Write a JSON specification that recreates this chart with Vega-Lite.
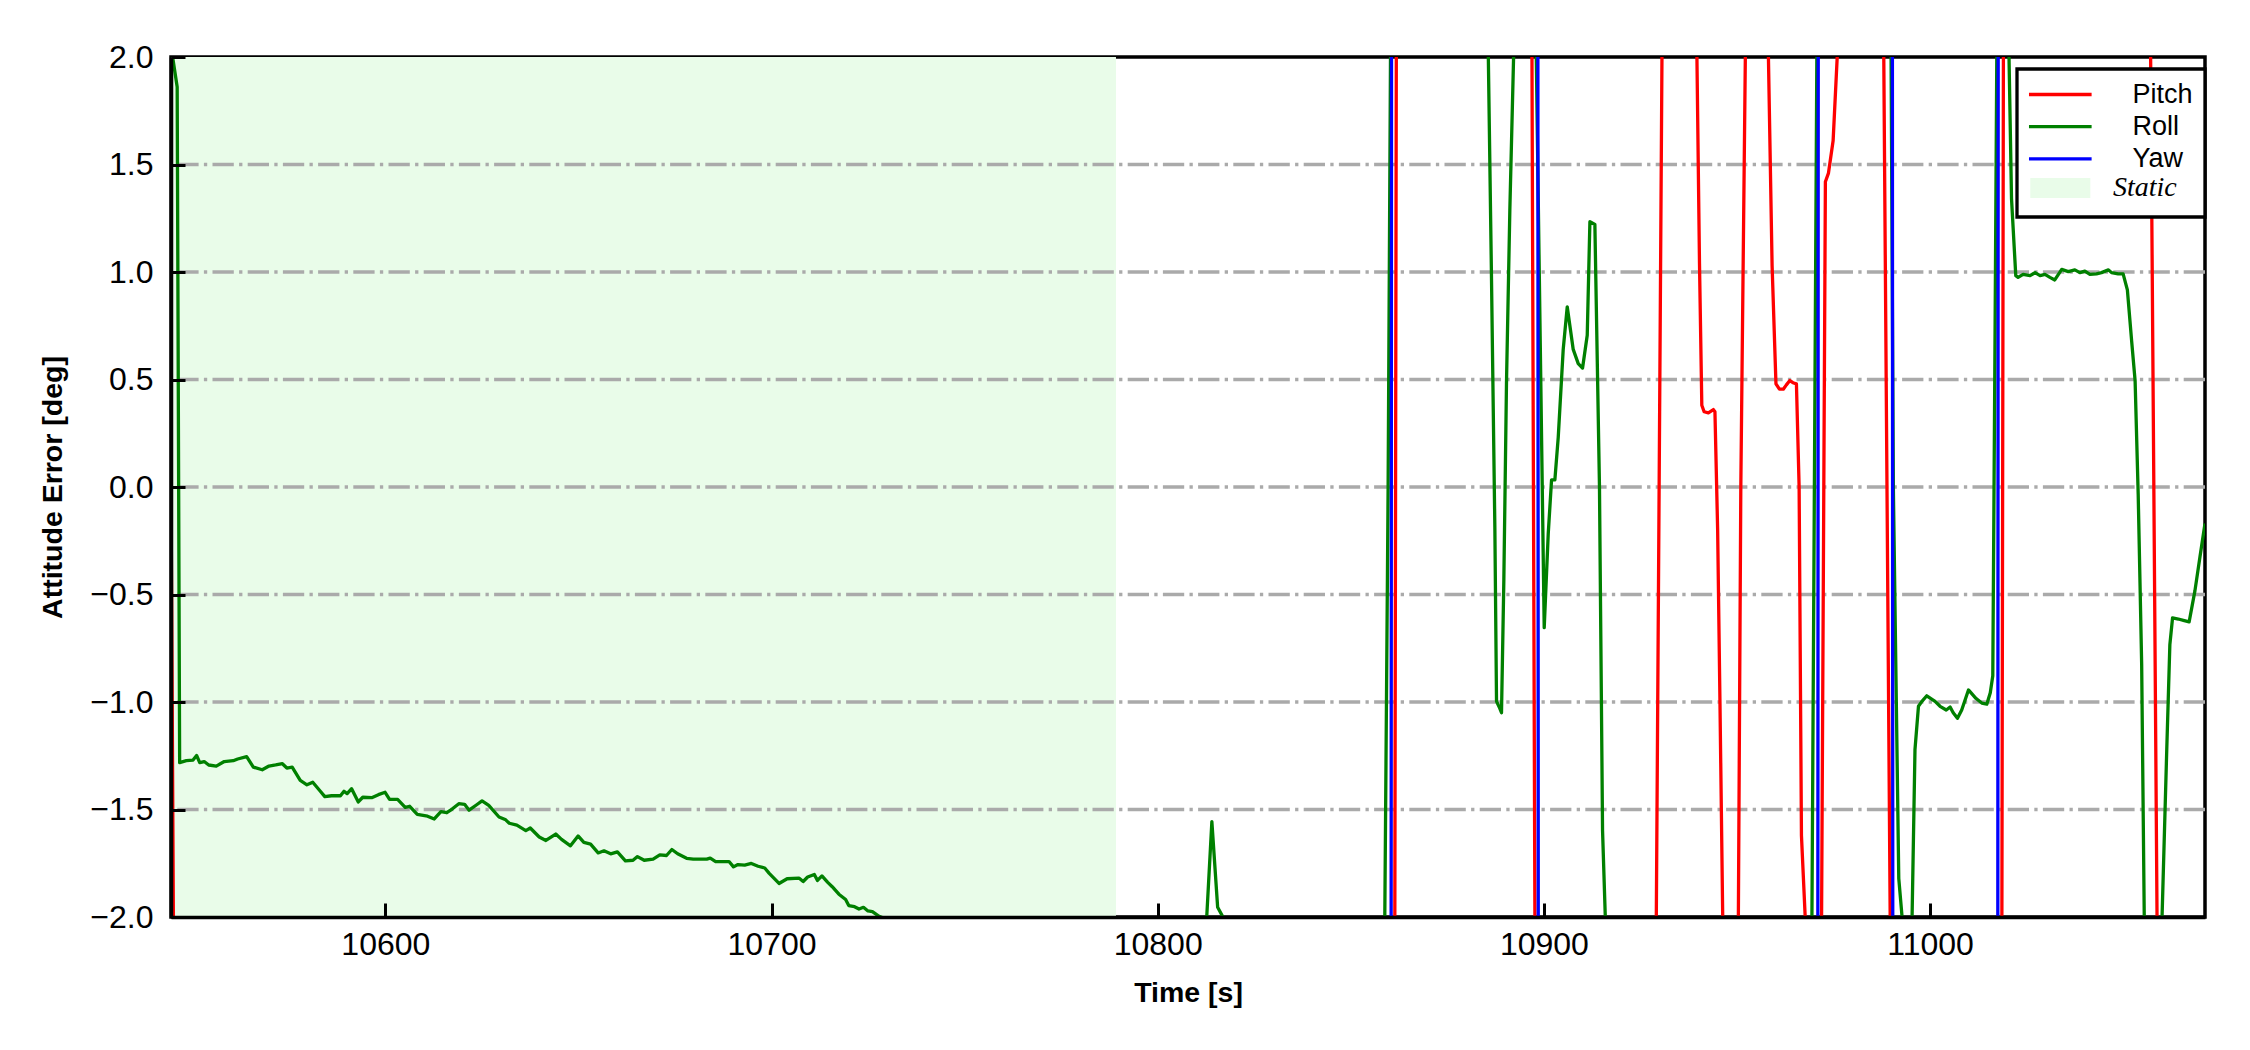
{
  "$schema": "https://vega.github.io/schema/vega-lite/v6.json",
  "width": 2034,
  "height": 860,
  "autosize": {"type": "none"},
  "padding": {"left": 171, "top": 57, "right": 45, "bottom": 133},
  "background": "white",
  "config": {
    "view": {"stroke": "black", "strokeWidth": 3.5},
    "font": "Liberation Sans",
    "legend": {
      "strokeWidth": 3.3,
      "labelAlign": "left",
      "labelColor": "black"
    }
  },
  "datasets": {
    "static": [{"region": "Static", "start": 10544.5, "end": 10789.2}],
    "grid": [{"level": -1.5}, {"level": -1}, {"level": -0.5}, {"level": 0}, {"level": 0.5}, {"level": 1}, {"level": 1.5}],
    "attitude": [
      {"series": "Pitch", "t": 10544.5, "v": 0.0},
      {"series": "Pitch", "t": 10545.15, "v": -2.1},
      {"series": "Pitch", "t": 10861.4, "v": -2.1},
      {"series": "Pitch", "t": 10861.8, "v": 2.1},
      {"series": "Pitch", "t": 10896.9, "v": 2.1},
      {"series": "Pitch", "t": 10897.7, "v": -2.1},
      {"series": "Pitch", "t": 10929.1, "v": -2.05},
      {"series": "Pitch", "t": 10930.6, "v": 2.05},
      {"series": "Pitch", "t": 10939.6, "v": 2.05},
      {"series": "Pitch", "t": 10940.3, "v": 1.04},
      {"series": "Pitch", "t": 10940.9, "v": 0.38},
      {"series": "Pitch", "t": 10941.5, "v": 0.35},
      {"series": "Pitch", "t": 10942.6, "v": 0.345},
      {"series": "Pitch", "t": 10943.9, "v": 0.36},
      {"series": "Pitch", "t": 10944.3, "v": 0.35},
      {"series": "Pitch", "t": 10945.0, "v": -0.2},
      {"series": "Pitch", "t": 10945.6, "v": -1.0},
      {"series": "Pitch", "t": 10946.35, "v": -2.05},
      {"series": "Pitch", "t": 10950.35, "v": -2.05},
      {"series": "Pitch", "t": 10951.0, "v": 0.0},
      {"series": "Pitch", "t": 10952.2, "v": 2.05},
      {"series": "Pitch", "t": 10958.1, "v": 2.05},
      {"series": "Pitch", "t": 10959.1, "v": 1.03},
      {"series": "Pitch", "t": 10960.1, "v": 0.48},
      {"series": "Pitch", "t": 10961.0, "v": 0.455},
      {"series": "Pitch", "t": 10962.0, "v": 0.455},
      {"series": "Pitch", "t": 10962.8, "v": 0.475},
      {"series": "Pitch", "t": 10963.7, "v": 0.495},
      {"series": "Pitch", "t": 10964.5, "v": 0.485},
      {"series": "Pitch", "t": 10965.4, "v": 0.48},
      {"series": "Pitch", "t": 10966.1, "v": 0.0},
      {"series": "Pitch", "t": 10966.7, "v": -1.62},
      {"series": "Pitch", "t": 10967.8, "v": -2.05},
      {"series": "Pitch", "t": 10971.9, "v": -2.05},
      {"series": "Pitch", "t": 10972.9, "v": 1.42},
      {"series": "Pitch", "t": 10973.7, "v": 1.46},
      {"series": "Pitch", "t": 10974.9, "v": 1.61},
      {"series": "Pitch", "t": 10976.1, "v": 2.05},
      {"series": "Pitch", "t": 10988.0, "v": 2.05},
      {"series": "Pitch", "t": 10989.7, "v": -2.05},
      {"series": "Pitch", "t": 11018.6, "v": -2.05},
      {"series": "Pitch", "t": 11019.0, "v": 2.05},
      {"series": "Pitch", "t": 11057.1, "v": 2.05},
      {"series": "Pitch", "t": 11058.8, "v": -2.05},
      {"series": "Pitch", "t": 11071.2, "v": -2.05},

      {"series": "Roll", "t": 10544.5, "v": 2.05},
      {"series": "Roll", "t": 10546.1, "v": 1.86},
      {"series": "Roll", "t": 10546.74, "v": -1.282},
      {"series": "Roll", "t": 10548.47, "v": -1.273},
      {"series": "Roll", "t": 10550.21, "v": -1.27},
      {"series": "Roll", "t": 10551.13, "v": -1.249},
      {"series": "Roll", "t": 10551.94, "v": -1.282},
      {"series": "Roll", "t": 10553.1, "v": -1.277},
      {"series": "Roll", "t": 10554.26, "v": -1.293},
      {"series": "Roll", "t": 10556.22, "v": -1.298},
      {"series": "Roll", "t": 10558.3, "v": -1.277},
      {"series": "Roll", "t": 10560.62, "v": -1.273},
      {"series": "Roll", "t": 10561.77, "v": -1.265},
      {"series": "Roll", "t": 10564.09, "v": -1.254},
      {"series": "Roll", "t": 10565.82, "v": -1.303},
      {"series": "Roll", "t": 10568.13, "v": -1.315},
      {"series": "Roll", "t": 10569.87, "v": -1.298},
      {"series": "Roll", "t": 10571.61, "v": -1.293},
      {"series": "Roll", "t": 10573.34, "v": -1.287},
      {"series": "Roll", "t": 10574.5, "v": -1.307},
      {"series": "Roll", "t": 10575.88, "v": -1.303},
      {"series": "Roll", "t": 10577.97, "v": -1.365},
      {"series": "Roll", "t": 10579.7, "v": -1.385},
      {"series": "Roll", "t": 10581.21, "v": -1.373},
      {"series": "Roll", "t": 10583.17, "v": -1.415},
      {"series": "Roll", "t": 10584.33, "v": -1.44},
      {"series": "Roll", "t": 10586.06, "v": -1.436},
      {"series": "Roll", "t": 10588.38, "v": -1.436},
      {"series": "Roll", "t": 10589.3, "v": -1.415},
      {"series": "Roll", "t": 10590.11, "v": -1.426},
      {"series": "Roll", "t": 10591.27, "v": -1.403},
      {"series": "Roll", "t": 10593.0, "v": -1.465},
      {"series": "Roll", "t": 10594.16, "v": -1.443},
      {"series": "Roll", "t": 10596.47, "v": -1.445},
      {"series": "Roll", "t": 10598.21, "v": -1.431},
      {"series": "Roll", "t": 10599.94, "v": -1.42},
      {"series": "Roll", "t": 10601.1, "v": -1.453},
      {"series": "Roll", "t": 10603.18, "v": -1.453},
      {"series": "Roll", "t": 10605.15, "v": -1.49},
      {"series": "Roll", "t": 10606.31, "v": -1.485},
      {"series": "Roll", "t": 10608.27, "v": -1.523},
      {"series": "Roll", "t": 10610.93, "v": -1.531},
      {"series": "Roll", "t": 10612.67, "v": -1.544},
      {"series": "Roll", "t": 10614.4, "v": -1.51},
      {"series": "Roll", "t": 10615.91, "v": -1.515},
      {"series": "Roll", "t": 10617.3, "v": -1.498},
      {"series": "Roll", "t": 10619.03, "v": -1.473},
      {"series": "Roll", "t": 10620.53, "v": -1.476},
      {"series": "Roll", "t": 10621.69, "v": -1.503},
      {"series": "Roll", "t": 10623.66, "v": -1.478},
      {"series": "Roll", "t": 10625.04, "v": -1.46},
      {"series": "Roll", "t": 10626.78, "v": -1.481},
      {"series": "Roll", "t": 10629.44, "v": -1.535},
      {"series": "Roll", "t": 10631.17, "v": -1.548},
      {"series": "Roll", "t": 10632.1, "v": -1.564},
      {"series": "Roll", "t": 10634.06, "v": -1.573},
      {"series": "Roll", "t": 10636.38, "v": -1.598},
      {"series": "Roll", "t": 10637.53, "v": -1.586},
      {"series": "Roll", "t": 10639.85, "v": -1.628},
      {"series": "Roll", "t": 10641.58, "v": -1.644},
      {"series": "Roll", "t": 10644.13, "v": -1.614},
      {"series": "Roll", "t": 10645.63, "v": -1.639},
      {"series": "Roll", "t": 10647.94, "v": -1.669},
      {"series": "Roll", "t": 10649.91, "v": -1.623},
      {"series": "Roll", "t": 10651.41, "v": -1.653},
      {"series": "Roll", "t": 10653.15, "v": -1.661},
      {"series": "Roll", "t": 10655.11, "v": -1.702},
      {"series": "Roll", "t": 10656.62, "v": -1.692},
      {"series": "Roll", "t": 10658.35, "v": -1.706},
      {"series": "Roll", "t": 10660.09, "v": -1.697},
      {"series": "Roll", "t": 10662.17, "v": -1.739},
      {"series": "Roll", "t": 10664.14, "v": -1.736},
      {"series": "Roll", "t": 10665.29, "v": -1.719},
      {"series": "Roll", "t": 10667.03, "v": -1.736},
      {"series": "Roll", "t": 10669.34, "v": -1.731},
      {"series": "Roll", "t": 10671.08, "v": -1.711},
      {"series": "Roll", "t": 10672.81, "v": -1.714},
      {"series": "Roll", "t": 10674.2, "v": -1.686},
      {"series": "Roll", "t": 10675.7, "v": -1.706},
      {"series": "Roll", "t": 10678.01, "v": -1.727},
      {"series": "Roll", "t": 10679.75, "v": -1.731},
      {"series": "Roll", "t": 10683.22, "v": -1.731},
      {"series": "Roll", "t": 10684.14, "v": -1.726},
      {"series": "Roll", "t": 10685.53, "v": -1.742},
      {"series": "Roll", "t": 10689.0, "v": -1.742},
      {"series": "Roll", "t": 10690.16, "v": -1.767},
      {"series": "Roll", "t": 10691.31, "v": -1.756},
      {"series": "Roll", "t": 10693.05, "v": -1.759},
      {"series": "Roll", "t": 10694.78, "v": -1.751},
      {"series": "Roll", "t": 10696.52, "v": -1.764},
      {"series": "Roll", "t": 10698.25, "v": -1.772},
      {"series": "Roll", "t": 10699.41, "v": -1.797},
      {"series": "Roll", "t": 10701.95, "v": -1.844},
      {"series": "Roll", "t": 10704.04, "v": -1.822},
      {"series": "Roll", "t": 10707.1, "v": -1.819},
      {"series": "Roll", "t": 10708.2, "v": -1.835},
      {"series": "Roll", "t": 10709.36, "v": -1.814},
      {"series": "Roll", "t": 10711.09, "v": -1.802},
      {"series": "Roll", "t": 10711.9, "v": -1.83},
      {"series": "Roll", "t": 10713.06, "v": -1.809},
      {"series": "Roll", "t": 10714.56, "v": -1.839},
      {"series": "Roll", "t": 10715.72, "v": -1.859},
      {"series": "Roll", "t": 10717.45, "v": -1.894},
      {"series": "Roll", "t": 10719.19, "v": -1.919},
      {"series": "Roll", "t": 10720.0, "v": -1.947},
      {"series": "Roll", "t": 10721.5, "v": -1.952},
      {"series": "Roll", "t": 10722.66, "v": -1.963},
      {"series": "Roll", "t": 10723.81, "v": -1.955},
      {"series": "Roll", "t": 10724.97, "v": -1.972},
      {"series": "Roll", "t": 10726.13, "v": -1.975},
      {"series": "Roll", "t": 10727.86, "v": -1.997},
      {"series": "Roll", "t": 10729.02, "v": -2.005},
      {"series": "Roll", "t": 10729.6, "v": -2.1},
      {"series": "Roll", "t": 10812.4, "v": -2.1},
      {"series": "Roll", "t": 10814.03, "v": -1.556},
      {"series": "Roll", "t": 10815.53, "v": -1.955},
      {"series": "Roll", "t": 10816.9, "v": -2.0},
      {"series": "Roll", "t": 10817.3, "v": -2.1},
      {"series": "Roll", "t": 10858.6, "v": -2.1},
      {"series": "Roll", "t": 10858.81, "v": -2.0},
      {"series": "Roll", "t": 10859.67, "v": 0.0},
      {"series": "Roll", "t": 10860.3, "v": 2.05},
      {"series": "Roll", "t": 10885.58, "v": 2.05},
      {"series": "Roll", "t": 10886.44, "v": 0.97},
      {"series": "Roll", "t": 10887.31, "v": -0.19},
      {"series": "Roll", "t": 10887.74, "v": -0.997},
      {"series": "Roll", "t": 10888.43, "v": -1.023},
      {"series": "Roll", "t": 10889.03, "v": -1.05},
      {"series": "Roll", "t": 10889.64, "v": -0.43},
      {"series": "Roll", "t": 10890.33, "v": 0.495},
      {"series": "Roll", "t": 10891.19, "v": 1.287},
      {"series": "Roll", "t": 10892.23, "v": 2.05},
      {"series": "Roll", "t": 10898.0, "v": 2.05},
      {"series": "Roll", "t": 10900.09, "v": -0.654},
      {"series": "Roll", "t": 10901.13, "v": -0.218},
      {"series": "Roll", "t": 10901.99, "v": 0.033},
      {"series": "Roll", "t": 10902.85, "v": 0.033},
      {"series": "Roll", "t": 10903.72, "v": 0.231},
      {"series": "Roll", "t": 10905.01, "v": 0.64},
      {"series": "Roll", "t": 10906.05, "v": 0.838},
      {"series": "Roll", "t": 10907.6, "v": 0.64},
      {"series": "Roll", "t": 10908.9, "v": 0.574},
      {"series": "Roll", "t": 10910.02, "v": 0.553},
      {"series": "Roll", "t": 10911.23, "v": 0.706},
      {"series": "Roll", "t": 10911.92, "v": 1.234},
      {"series": "Roll", "t": 10913.21, "v": 1.221},
      {"series": "Roll", "t": 10914.4, "v": 0.0},
      {"series": "Roll", "t": 10915.2, "v": -1.6},
      {"series": "Roll", "t": 10916.0, "v": -2.05},
      {"series": "Roll", "t": 10969.4, "v": -2.05},
      {"series": "Roll", "t": 10970.7, "v": 2.05},
      {"series": "Roll", "t": 10989.9, "v": 2.05},
      {"series": "Roll", "t": 10990.5, "v": 0.0},
      {"series": "Roll", "t": 10991.9, "v": -1.82},
      {"series": "Roll", "t": 10993.0, "v": -2.05},
      {"series": "Roll", "t": 10995.3, "v": -2.05},
      {"series": "Roll", "t": 10996.1, "v": -1.222},
      {"series": "Roll", "t": 10997.0, "v": -1.02},
      {"series": "Roll", "t": 10997.9, "v": -0.997},
      {"series": "Roll", "t": 10999.15, "v": -0.971},
      {"series": "Roll", "t": 11001.3, "v": -0.997},
      {"series": "Roll", "t": 11002.6, "v": -1.02},
      {"series": "Roll", "t": 11004.2, "v": -1.037},
      {"series": "Roll", "t": 11005.2, "v": -1.023},
      {"series": "Roll", "t": 11006.0, "v": -1.05},
      {"series": "Roll", "t": 11007.1, "v": -1.076},
      {"series": "Roll", "t": 11008.2, "v": -1.037},
      {"series": "Roll", "t": 11009.95, "v": -0.944},
      {"series": "Roll", "t": 11011.93, "v": -0.984},
      {"series": "Roll", "t": 11013.4, "v": -1.005},
      {"series": "Roll", "t": 11014.7, "v": -1.01},
      {"series": "Roll", "t": 11015.6, "v": -0.957},
      {"series": "Roll", "t": 11016.25, "v": -0.878},
      {"series": "Roll", "t": 11016.85, "v": 0.76},
      {"series": "Roll", "t": 11017.3, "v": 2.05},
      {"series": "Roll", "t": 11020.4, "v": 2.05},
      {"series": "Roll", "t": 11021.1, "v": 1.34},
      {"series": "Roll", "t": 11022.2, "v": 0.983},
      {"series": "Roll", "t": 11022.8, "v": 0.975},
      {"series": "Roll", "t": 11024.1, "v": 0.989},
      {"series": "Roll", "t": 11025.9, "v": 0.983},
      {"series": "Roll", "t": 11027.2, "v": 0.997},
      {"series": "Roll", "t": 11028.5, "v": 0.983},
      {"series": "Roll", "t": 11029.75, "v": 0.989},
      {"series": "Roll", "t": 11031.05, "v": 0.975},
      {"series": "Roll", "t": 11032.3, "v": 0.963},
      {"series": "Roll", "t": 11034.1, "v": 1.012},
      {"series": "Roll", "t": 11035.8, "v": 1.002},
      {"series": "Roll", "t": 11037.5, "v": 1.01},
      {"series": "Roll", "t": 11038.8, "v": 0.997},
      {"series": "Roll", "t": 11040.1, "v": 1.004},
      {"series": "Roll", "t": 11041.4, "v": 0.989},
      {"series": "Roll", "t": 11043.1, "v": 0.991},
      {"series": "Roll", "t": 11044.4, "v": 0.997},
      {"series": "Roll", "t": 11046.2, "v": 1.01},
      {"series": "Roll", "t": 11047.0, "v": 0.997},
      {"series": "Roll", "t": 11048.7, "v": 0.991},
      {"series": "Roll", "t": 11050.0, "v": 0.991},
      {"series": "Roll", "t": 11051.1, "v": 0.917},
      {"series": "Roll", "t": 11052.2, "v": 0.68},
      {"series": "Roll", "t": 11053.1, "v": 0.495},
      {"series": "Roll", "t": 11053.9, "v": -0.033},
      {"series": "Roll", "t": 11054.8, "v": -0.825},
      {"series": "Roll", "t": 11055.5, "v": -2.05},
      {"series": "Roll", "t": 11060.0, "v": -2.05},
      {"series": "Roll", "t": 11061.3, "v": -1.22},
      {"series": "Roll", "t": 11062.1, "v": -0.733},
      {"series": "Roll", "t": 11062.8, "v": -0.609},
      {"series": "Roll", "t": 11064.3, "v": -0.614},
      {"series": "Roll", "t": 11065.6, "v": -0.62},
      {"series": "Roll", "t": 11067.1, "v": -0.627},
      {"series": "Roll", "t": 11068.6, "v": -0.482},
      {"series": "Roll", "t": 11069.9, "v": -0.324},
      {"series": "Roll", "t": 11071.2, "v": -0.17},

      {"series": "Yaw", "t": 10544.5, "v": -2.1},
      {"series": "Yaw", "t": 10860.45, "v": -2.1},
      {"series": "Yaw", "t": 10860.55, "v": 2.1},
      {"series": "Yaw", "t": 10898.45, "v": 2.1},
      {"series": "Yaw", "t": 10898.55, "v": -2.1},
      {"series": "Yaw", "t": 10970.95, "v": -2.1},
      {"series": "Yaw", "t": 10971.05, "v": 2.1},
      {"series": "Yaw", "t": 10990.25, "v": 2.1},
      {"series": "Yaw", "t": 10990.35, "v": -2.1},
      {"series": "Yaw", "t": 11017.55, "v": -2.1},
      {"series": "Yaw", "t": 11017.65, "v": 2.1},
      {"series": "Yaw", "t": 11071.2, "v": 2.1}
    ]
  },
  "layer": [
    {
      "data": {"name": "static"},
      "mark": {"type": "rect", "opacity": 1, "strokeWidth": 0},
      "encoding": {
        "x": {
          "field": "start", "type": "quantitative",
          "scale": {"domain": [10544.5, 11071.2], "nice": false, "zero": false},
          "axis": {
            "title": "Time [s]", "values": [10600, 10700, 10800, 10900, 11000], "format": "d",
            "grid": false, "domain": true, "domainColor": "black", "domainWidth": 3.5,
            "ticks": true, "tickColor": "black", "tickWidth": 3, "tickSize": -14,
            "labelFont": "Liberation Sans", "labelFontSize": 32, "labelColor": "black", "labelPadding": 26,
            "labelFlush": false, "labelOverlap": false, "labelAngle": 0,
            "titleFont": "Liberation Sans", "titleFontSize": 28.5, "titleFontWeight": "bold", "titleColor": "black",
            "titleX": 1017, "titleY": 84, "titleBaseline": "alphabetic", "titleAlign": "center",
            "zindex": 1
          }
        },
        "x2": {"field": "end"},
        "fill": {
          "field": "region", "type": "nominal",
          "scale": {"domain": ["Static"], "range": ["#e9fce9"]},
          "legend": {
            "title": null, "orient": "none", "legendX": 1858, "legendY": 117, "direction": "vertical",
            "padding": 0, "zindex": 2,
            "symbolType": "M-2.59,-0.86H2.59V0.86H-2.59Z", "symbolSize": 538, "symbolStrokeWidth": 0,
            "symbolOffset": 17.3, "labelOffset": 38.7, "symbolOpacity": 1, "labelAlign": "left",
            "labelFont": "Liberation Serif", "labelFontStyle": "italic", "labelFontSize": 28, "labelColor": "black", "labelLimit": 400
          }
        }
      }
    },
    {
      "data": {"name": "grid"},
      "mark": {"type": "rule", "color": "#aaaaaa", "strokeWidth": 3.3, "strokeDash": [21.3, 5.3, 3.3, 5.3]},
      "encoding": {
        "y": {
          "field": "level", "type": "quantitative",
          "scale": {"domain": [-2, 2], "nice": false, "zero": false},
          "axis": {
            "title": "Attitude Error [deg]", "values": [-2, -1.5, -1, -0.5, 0, 0.5, 1, 1.5, 2], "format": ".1f",
            "grid": false, "domain": true, "domainColor": "black", "domainWidth": 3.5,
            "ticks": true, "tickColor": "black", "tickWidth": 3, "tickSize": -14,
            "labelFont": "Liberation Sans", "labelFontSize": 32, "labelColor": "black", "labelPadding": 32,
            "labelFlush": false, "labelOverlap": false,
            "titleFont": "Liberation Sans", "titleFontSize": 28.5, "titleFontWeight": "bold", "titleColor": "black",
            "titleX": -110, "titleY": 430, "titleAngle": 270, "titleBaseline": "alphabetic", "titleAlign": "center",
            "zindex": 1
          }
        }
      }
    },
    {
      "data": {"name": "attitude"},
      "mark": {"type": "line", "clip": true, "strokeWidth": 3.3, "strokeJoin": "round", "interpolate": "linear"},
      "encoding": {
        "x": {"field": "t", "type": "quantitative", "scale": {"domain": [10544.5, 11071.2], "nice": false, "zero": false}},
        "y": {"field": "v", "type": "quantitative", "scale": {"domain": [-2, 2], "nice": false, "zero": false}},
        "color": {
          "field": "series", "type": "nominal",
          "scale": {"domain": ["Pitch", "Roll", "Yaw", "Static"], "range": ["#ff0000", "#008000", "#0000ff", "#ffffff"]},
          "legend": {
            "title": null,
            "orient": "none", "legendX": 1846, "legendY": 12, "direction": "vertical",
            "fillColor": "white", "strokeColor": "black", "cornerRadius": 0, "padding": 12, "zindex": 1,
            "symbolType": "M-2.7,0H2.7", "symbolSize": 538, "symbolStrokeWidth": 3.3, "symbolOffset": 17.8, "labelOffset": 58.7,
            "symbolOpacity": 1, "labelAlign": "left",
            "labelExpr": "datum.label == 'Static' ? '\u00a0\u00a0\u00a0\u00a0\u00a0\u00a0\u00a0\u00a0\u00a0' : datum.label",
            "labelFont": "Liberation Sans", "labelFontSize": 27, "labelColor": "black", "labelLimit": 400,
            "rowPadding": 4.2
          }
        }
      }
    }
  ]
}
